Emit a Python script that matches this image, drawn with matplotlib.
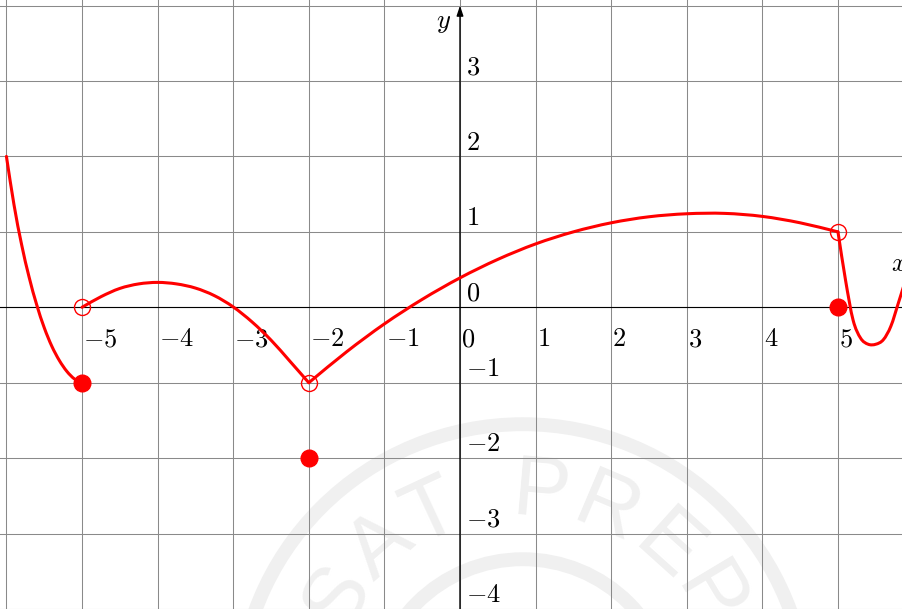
import matplotlib
matplotlib.use("Agg")
import matplotlib.pyplot as plt
import numpy as np
from matplotlib.path import Path
from matplotlib.patches import PathPatch, Circle

plt.rcParams['mathtext.fontset'] = 'cm'

# curve pieces
x1 = [-6.0, -5.9, -5.8, -5.7, -5.6, -5.5, -5.4, -5.3, -5.2, -5.1, -5.0]
y1 = [2.0, 1.36, 0.835, 0.40, 0.035, -0.27, -0.515, -0.705, -0.85, -0.95, -1.0]

x2 = [-5.0, -4.75, -4.5, -4.25, -4.0, -3.75, -3.5, -3.25, -3.0, -2.75, -2.5,
      -2.25, -2.0]
y2 = [0.0, 0.14, 0.25, 0.31, 0.33, 0.31, 0.255, 0.155, 0.005, -0.195, -0.435,
      -0.715, -1.0]

x3 = [-2.0, -1.5, -1.0, -0.5, 0.0, 0.5, 1.0, 1.5, 2.0, 2.5, 3.0, 3.5, 4.0,
      4.5, 5.0]
y3 = [-1.0, -0.59, -0.22, 0.105, 0.39, 0.635, 0.84, 1.0, 1.12, 1.20, 1.24,
      1.245, 1.205, 1.12, 1.0]

x4 = [5.0, 5.1, 5.2, 5.3, 5.4, 5.5, 5.6, 5.7, 5.8, 5.9]
y4 = [1.0, 0.36, -0.17, -0.41, -0.49, -0.49, -0.43, -0.25, 0.06, 0.38]

# filled and open end points
filled_x = [-5, -2, 5]
filled_y = [-1, -2, 0]
open_x = [-5, -2, 5]
open_y = [0, -1, 1]

x_labels = [-5, -4, -3, -2, -1, 0, 1, 2, 3, 4, 5]
y_labels = [-4, -3, -2, -1, 0, 1, 2, 3]

# watermark letters and their angle from vertical (degrees)
wm_chars = ['S', 'A', 'T', 'P', 'R', 'E', 'P']
wm_angles = [-59, -41, -25, 5, 23, 42, 59]


def smooth(xs, ys):
    p = np.column_stack([xs, ys]).astype(float)
    ext = np.vstack([2 * p[0] - p[1], p, 2 * p[-1] - p[-2]])
    verts = [p[0]]
    codes = [Path.MOVETO]
    for i in range(len(p) - 1):
        p0, p1, p2, p3 = ext[i], ext[i + 1], ext[i + 2], ext[i + 3]
        verts += [p1 + (p2 - p0) / 6, p2 - (p3 - p1) / 6, p2]
        codes += [Path.CURVE4] * 3
    return Path(verts, codes)


fig = plt.figure(figsize=(9.02, 6.09), dpi=100)
ax = fig.add_axes([0, 0, 1, 1])
ax.set_xlim(-6.085, 5.847)
ax.set_ylim(-3.98, 4.074)
for s in ax.spines.values():
    s.set_visible(False)

ax.set_xticks(range(-6, 6))
ax.set_yticks(range(-4, 5))
ax.tick_params(length=0, labelbottom=False, labelleft=False)
ax.set_axisbelow(True)
ax.grid(True, color='#8a8a8a', lw=0.75)

# faint watermark
wm = '#f0f0f0'
cx, cy = 0.83, -5.32
for r in [3.77, 1.98]:
    ax.add_patch(Circle((cx, cy), r, fill=False, ec=wm, lw=10, zorder=0.1))
for ch, ang in zip(wm_chars, wm_angles):
    a = np.radians(ang)
    ax.text(cx + 2.85 * np.sin(a), cy + 2.85 * np.cos(a), ch, rotation=-ang,
            rotation_mode='anchor', ha='center', va='center', fontsize=62,
            family='Liberation Sans', color=wm, zorder=0.2, clip_on=True)

# axes
ax.axhline(0, color='black', lw=0.8, zorder=2)
ax.annotate('', xy=(0, 4.0), xytext=(0, -4.2),
            arrowprops=dict(arrowstyle='-|>,head_length=0.6,head_width=0.2',
                            color='black', lw=1.0, shrinkA=0, shrinkB=0),
            zorder=2)

for v in x_labels:
    ax.text(v + 0.015, -0.515, r'$%d$' % v, ha='left', va='baseline',
            fontsize=19, zorder=3)
for v in y_labels:
    ax.text(0.08, v + 0.09, r'$%d$' % v, ha='left', va='baseline',
            fontsize=19, zorder=3)
ax.text(5.70, 0.48, r'$x$', ha='left', va='baseline', fontsize=19)
ax.text(-0.12, 3.70, r'$y$', ha='right', va='baseline', fontsize=19)

for xs, ys in [(x1, y1), (x2, y2), (x3, y3), (x4, y4)]:
    ax.add_patch(PathPatch(smooth(xs, ys), fill=False, ec='#ff0000',
                           lw=2.2, zorder=4, capstyle='round'))

ax.plot(open_x, open_y, 'o', ms=11.5, mfc='none', mec='#ff0000', mew=1.0,
        zorder=5)
ax.plot(filled_x, filled_y, 'o', ms=12, color='#ff0000', zorder=5)

fig.savefig('out.png', dpi=100)
